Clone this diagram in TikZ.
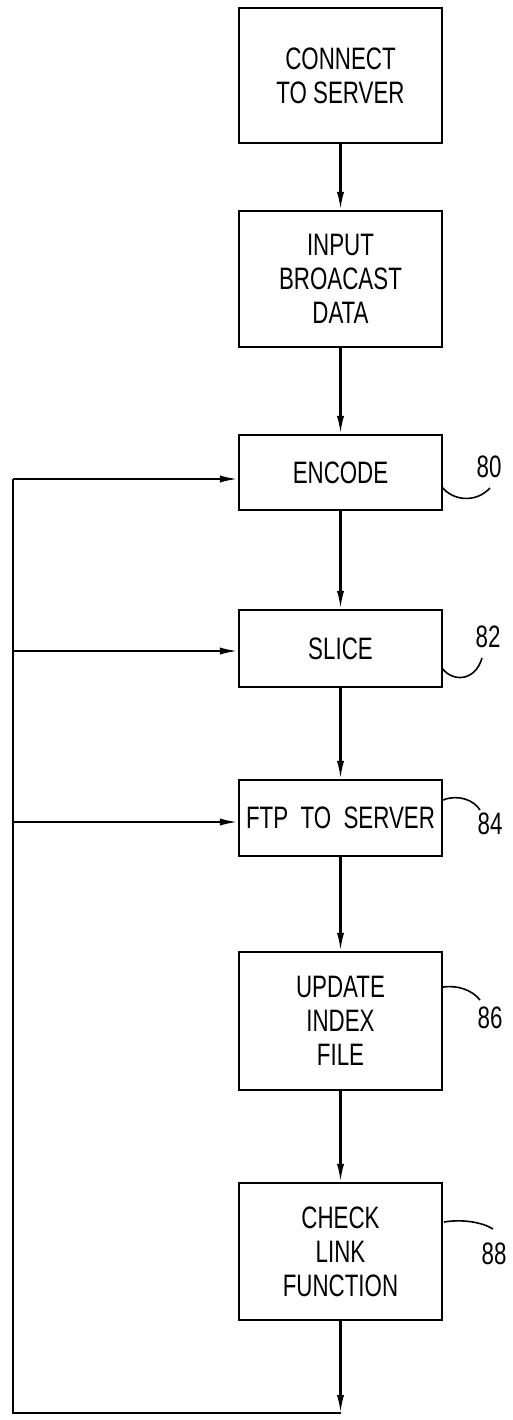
\documentclass[tikz,border=0pt]{standalone}
\usepackage{fontspec}
\setmainfont{Liberation Sans}[FakeStretch=0.72]
\usetikzlibrary{arrows.meta}
\begin{document}
\begin{tikzpicture}[x=0.5pt,y=-0.5pt,
  box/.style={draw,line width=1.1pt,minimum width=101.5pt,align=center,inner sep=0pt,
    font=\fontsize{15.5}{17}\selectfont},
  conn/.style={line width=1.1pt},
  arr/.style={line width=1.1pt,-{Latex[length=9pt,width=3.6pt]}},
  lead/.style={line width=0.8pt},
  num/.style={font=\fontsize{15.5}{17}\selectfont,inner sep=0pt}]
\useasboundingbox (0,0) rectangle (513,1420);
\node[box,minimum height=67.5pt,text depth=-3pt] (connect) at (340.5,75.5) {CONNECT\\TO SERVER};
\node[box,minimum height=68pt] (input) at (340.5,279) {INPUT\\BROACAST\\DATA};
\node[box,minimum height=37.5pt] (encode) at (340.5,472.5) {ENCODE};
\node[box,minimum height=38.5pt] (slice) at (340.5,648.5) {SLICE};
\node[box,minimum height=38pt] (ftp) at (340.5,818) {FTP\ \ TO\ \ SERVER};
\node[box,minimum height=69pt] (update) at (340.5,1021) {UPDATE\\INDEX\\FILE};
\node[box,minimum height=68.5pt] (check) at (340.5,1251.5) {CHECK\\LINK\\FUNCTION};
\coordinate (bot) at (340.5,1413);
\coordinate (lt) at (13,479);
\coordinate (b1) at (13,651);
\coordinate (b2) at (13,822);
\draw[arr] (connect) -- (input);
\draw[arr] (input) -- (encode);
\draw[arr] (encode) -- (slice);
\draw[arr] (slice) -- (ftp);
\draw[arr] (ftp) -- (update);
\draw[arr] (update) -- (check);
\draw[arr] (check) -- (bot);
\draw[conn] (bot) -| (lt);
\draw[arr] (lt) -- (lt -| encode.west);
\draw[arr] (b1) -- (b1 -| slice.west);
\draw[arr] (b2) -- (b2 -| ftp.west);
% reference numerals
\node[num] (n80) at (489,467) {80};
\node[num] (n82) at (488,637) {82};
\node[num] (n84) at (490,824) {84};
\node[num] (n86) at (490,1018) {86};
\node[num] (n88) at (494,1254) {88};
\draw[lead] (442,487) .. controls (452,500) and (475,504) .. (490,488);
\draw[lead] (442,668) .. controls (452,682) and (475,682) .. (482,658);
\draw[lead] (443,800) .. controls (458,794) and (474,800) .. (480,810);
\draw[lead] (443,987) .. controls (458,985) and (472,990) .. (480,1000);
\draw[lead] (444,1222) .. controls (462,1219) and (482,1222) .. (493,1229);
\end{tikzpicture}
\end{document}
